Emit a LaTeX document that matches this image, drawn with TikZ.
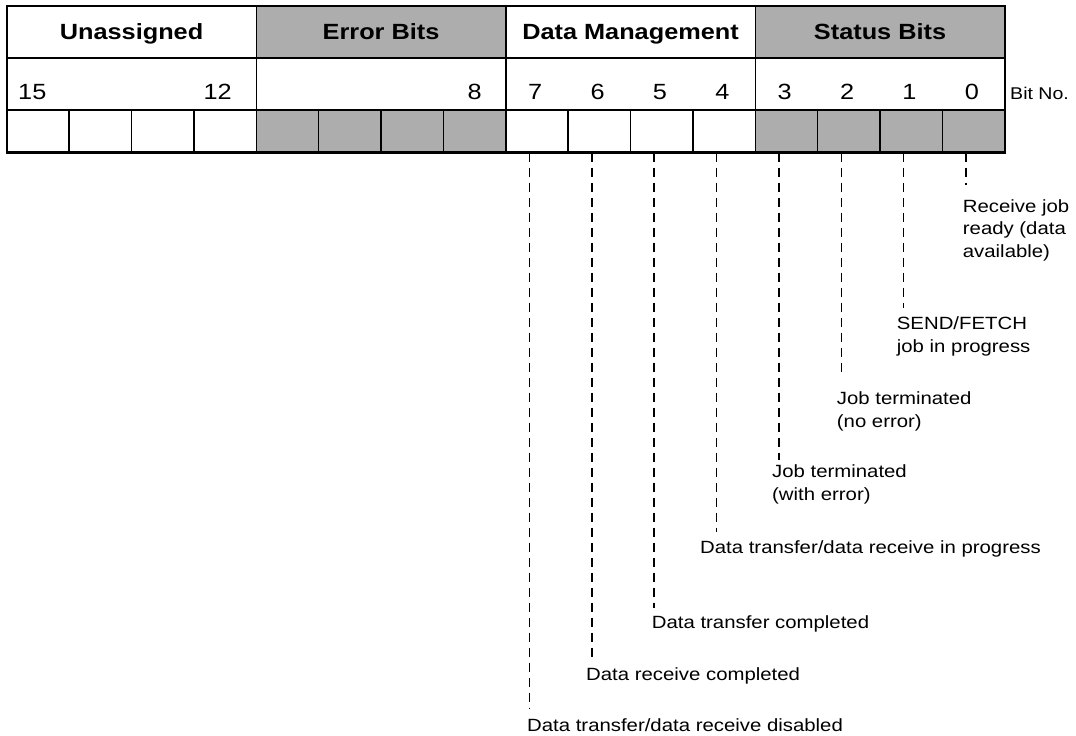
\documentclass[tikz,border=0pt]{standalone}
\usepackage{fontspec}
\setmainfont{Liberation Sans}[FakeStretch=1.15]
\definecolor{shadegray}{gray}{0.68}
\begin{document}
\begin{tikzpicture}[x=1pt,y=-1pt,
  frame/.style={draw, line width=1.6pt, inner sep=0pt, anchor=north west},
  grp/.style={frame, minimum width=249.5pt, minimum height=52pt,
    font=\bfseries\fontsize{22}{24}\selectfont, text height=18pt, text depth=3pt},
  cell/.style={frame, minimum width=62.375pt, minimum height=42pt},
  shade/.style={fill=shadegray},
  plain/.style={},
  num/.style={inner sep=0pt, font=\fontsize{22}{24}\selectfont},
  lbl/.style={inner sep=0pt, anchor=base west, align=left, font=\fontsize{17.7}{22.5}\selectfont},
  dashline/.style={line width=1.5pt, dash pattern=on 9pt off 6pt}
]
\useasboundingbox (0,0) rectangle (1076,736);

% header row
\node[grp] (hU) at (6,5) {Unassigned};
\node[grp, shade] (hE) at (255.5,5) {Error Bits};
\node[grp] (hD) at (505,5) {Data Management};
\node[grp, shade] (hS) at (754.5,5) {Status Bits};

% bit number row
\node[grp] (nU) at (6,57) {};
\node[grp] (nE) at (255.5,57) {};
\node[grp] (nD) at (505,57) {};
\node[grp] (nS) at (754.5,57) {};

% bit cells
\foreach \i/\s in {0/plain,1/plain,2/plain,3/plain,4/shade,5/shade,6/shade,7/shade,
                   8/plain,9/plain,10/plain,11/plain,12/shade,13/shade,14/shade,15/shade}{
  \pgfmathtruncatemacro{\bn}{15-\i}
  \pgfmathsetmacro{\xx}{6+\i*62.375}
  \node[cell,\s] (b\bn) at (\xx,109) {};
}
\draw[line width=2.3pt] (b15.south west) -- (b0.south east);

% bit numbers
\node[num, anchor=base west] (n15) at (18,99) {15};
\node[num, anchor=base east] (n12) at (232,99) {12};
\node[num, anchor=base east] (n8) at (482,99) {8};
\foreach \bn in {7,6,5,4,3,2,1,0}{
  \pgfmathsetmacro{\xx}{6+(15.5-\bn)*62.375-1}
  \node[num, anchor=base] (n\bn) at (\xx,99) {\bn};
}
\node[inner sep=0pt, anchor=base west, font=\fontsize{17}{20}\selectfont] (bitno) at (1010,99) {Bit No.};

% labels (base = baseline of the last line)
\node[lbl] (l0) at (962.7,257) {Receive job\\ready (data\\available)};
\node[lbl] (l1) at (896.7,352) {SEND/FETCH\\job in progress};
\node[lbl] (l2) at (836.7,427) {Job terminated\\(no error)};
\node[lbl] (l3) at (772,500) {Job terminated\\(with error)};
\node[lbl] (l4) at (700,553.5) {Data transfer/data receive in progress};
\node[lbl] (l5) at (651.7,628.5) {Data transfer completed};
\node[lbl] (l6) at (586,680.5) {Data receive completed};
\node[lbl] (l7) at (527,731.5) {Data transfer/data receive disabled};

% line ends
\coordinate (e0) at (966.1,185);
\coordinate (e1) at (903.7,308);
\coordinate (e2) at (841.4,377);
\coordinate (e3) at (779,460);
\coordinate (e4) at (716.6,532);
\coordinate (e5) at (654.2,608);
\coordinate (e6) at (591.9,660);
\coordinate (e7) at (529.5,708);

\foreach \k in {0,...,7}{
  \draw[dashline] (b\k.south -| e\k) -- (e\k);
}
\end{tikzpicture}
\end{document}
